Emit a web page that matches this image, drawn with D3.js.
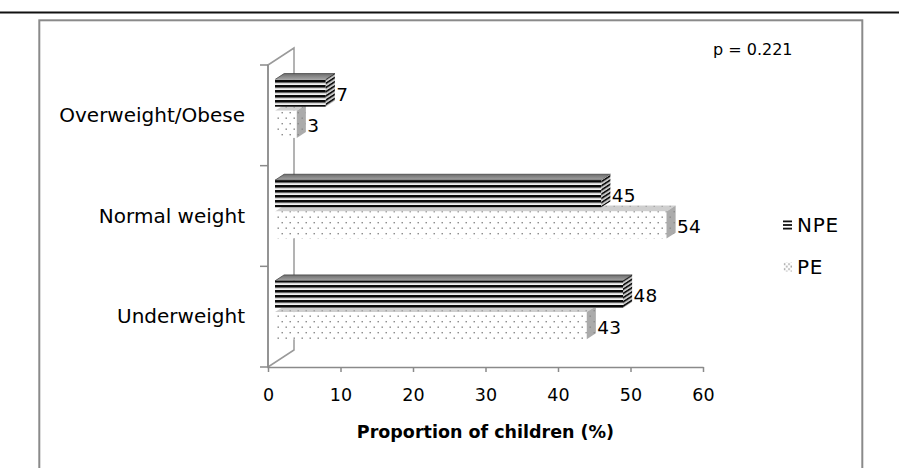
<!DOCTYPE html>
<html>
<head>
<meta charset="utf-8">
<script src="https://cdn.jsdelivr.net/npm/d3@7"></script>
<style>
	body { margin: 0; background: #fff; }
	text { font-family: "DejaVu Sans", sans-serif; fill: #000; }
</style>
</head>
<body>
<svg width="899" height="468"></svg>
<script>
const categories = ["Overweight/Obese", "Normal weight", "Underweight"];
const seriesNames = ["NPE", "PE"];
const npeValues = [7, 45, 48];
const peValues = [3, 54, 43];
const xTicks = [0, 10, 20, 30, 40, 50, 60];
const xTitle = "Proportion of children (%)";
const pLabel = "p = 0.221";

const svg = d3.select("svg"); // select the svg in the DOM

const width = +svg.attr("width");
const height = +svg.attr("height");

// page rule and chart frame
svg.append("line")
	.attr("x1", 0).attr("x2", width)
	.attr("y1", 12.6).attr("y2", 12.6)
	.attr("stroke", "#111").attr("stroke-width", 2);
svg.append("rect")
	.attr("x", 39.3).attr("y", 20.3)
	.attr("width", 823).attr("height", height)
	.attr("fill", "#fff")
	.attr("stroke", "#8a8a8a").attr("stroke-width", 2);

const defs = svg.append("defs");

// horizontal stripes for NPE
const stripes = defs.append("pattern")
	.attr("id", "npeFront").attr("patternUnits", "userSpaceOnUse")
	.attr("width", 4).attr("height", 5);
stripes.append("rect").attr("width", 4).attr("height", 5).attr("fill", "#f2f2f2");
stripes.append("rect").attr("width", 4).attr("height", 2.6).attr("fill", "#0a0a0a");
stripes.append("rect").attr("y", 2.6).attr("width", 4).attr("height", 0.6).attr("fill", "#666");

const endStripes = defs.append("pattern")
	.attr("id", "npeEnd").attr("patternUnits", "userSpaceOnUse")
	.attr("width", 6).attr("height", 4.2)
	.attr("patternTransform", "skewY(-33)");
endStripes.append("rect").attr("width", 6).attr("height", 4.2).attr("fill", "#c8c8c8");
endStripes.append("rect").attr("width", 6).attr("height", 2).attr("fill", "#111");

const topGrad = defs.append("linearGradient")
	.attr("id", "npeTop").attr("x1", 0).attr("x2", 0).attr("y1", 0).attr("y2", 1);
topGrad.append("stop").attr("offset", 0).attr("stop-color", "#6e6e6e");
topGrad.append("stop").attr("offset", 1).attr("stop-color", "#a4a4a4");

// dots for PE
const dotPattern = (id, bg, dot, w, h) => {
	const p = defs.append("pattern")
		.attr("id", id).attr("patternUnits", "userSpaceOnUse")
		.attr("width", w).attr("height", h);
	p.append("rect").attr("width", w).attr("height", h).attr("fill", bg);
	[[w * 0.19, h * 0.18], [w * 0.69, h * 0.68]].forEach(([x, y]) => {
		p.append("rect").attr("x", x).attr("y", y)
			.attr("width", 1.4).attr("height", 1.4).attr("fill", dot);
	});
};
dotPattern("peFront", "#fff", "#858585", 8, 11);
dotPattern("peTop", "#cfcfcf", "#a0a0a0", 8, 11);
dotPattern("peEnd", "#ababab", "#8a8a8a", 8, 11);
dotPattern("peKey", "#fff", "#808080", 4.5, 5);

const xScale = d3.scaleLinear()
	.domain([0, 60])
	.range([268, 703]);

const yScale = d3.scaleBand()
	.domain(categories)
	.range([65, 367]);

// oblique depth of the floor and where the bars sit in it
const depth = { x: 26, y: -17 };
const barDepth = [0.27, 0.62];

const seriesScale = d3.scaleBand()
	.domain(seriesNames)
	.range([-0.31, 0.27])
	.paddingInner(0.13);

// side wall
const x0 = xScale(0);
const yTop = yScale.range()[0];
const yBottom = yScale.range()[1];
svg.append("polygon")
	.attr("points", [
		[x0, yTop], [x0 + depth.x, yTop + depth.y],
		[x0 + depth.x, yBottom + depth.y], [x0, yBottom]
	].join(" "))
	.attr("fill", "#fff")
	.attr("stroke", "#9a9a9a").attr("stroke-width", 1.5);

// x axis
const xAxis = d3.axisBottom(xScale)
	.tickValues(xTicks)
	.tickSize(5)
	.tickSizeOuter(0)
	.tickPadding(17);

const xAxisG = svg.append("g")
	.attr("transform", `translate(0, ${yBottom})`)
	.call(xAxis);
xAxisG.select(".domain").attr("stroke", "#8a8a8a").attr("stroke-width", 1.5);
xAxisG.selectAll(".tick line").attr("stroke", "#8a8a8a").attr("stroke-width", 1.5);
xAxisG.selectAll(".tick text")
	.attr("font-family", "DejaVu Sans")
	.attr("font-size", 17.5)
	.attr("fill", "#000");

svg.append("text")
	.attr("x", (xScale(0) + xScale(60)) / 2)
	.attr("y", 438)
	.attr("text-anchor", "middle")
	.attr("font-size", 17.5)
	.attr("font-weight", "bold")
	.text(xTitle);

// category axis, ticks between categories
const bw = yScale.bandwidth();
const boundaries = categories.map(c => yScale(c)).concat([yBottom]);
svg.append("line")
	.attr("x1", x0).attr("x2", x0)
	.attr("y1", yTop).attr("y2", yBottom)
	.attr("stroke", "#8a8a8a").attr("stroke-width", 1.5);
svg.selectAll("line.ytick").data(boundaries)
	.enter().append("line")
		.attr("class", "ytick")
		.attr("x1", x0 - 8).attr("x2", x0)
		.attr("y1", d => d).attr("y2", d => d)
		.attr("stroke", "#8a8a8a").attr("stroke-width", 1.5);
svg.selectAll("text.cat").data(categories)
	.enter().append("text")
		.attr("class", "cat")
		.attr("x", 245)
		.attr("y", d => yScale(d) + bw / 2 + 6.5)
		.attr("text-anchor", "end")
		.attr("font-size", 20)
		.text(d => d);

// bars, PE drawn first so the NPE bar above covers its top face
const sx = depth.x * barDepth[0];
const sy = depth.y * barDepth[0];
const ddx = depth.x * (barDepth[1] - barDepth[0]);
const ddy = depth.y * (barDepth[1] - barDepth[0]);

const bars = [];
categories.forEach((c, i) => {
	[["PE", peValues[i]], ["NPE", npeValues[i]]].forEach(([s, v]) => {
		const cy = yScale(c) + bw / 2 + sy;
		const top = cy + seriesScale(s) * bw;
		bars.push({
			series: s, value: v,
			x0: xScale(0) + sx, x1: xScale(v) + sx,
			top: top, bottom: top + seriesScale.bandwidth() * bw
		});
	});
});

const faces = {
	NPE: { front: "url(#npeFront)", top: "url(#npeTop)", end: "url(#npeEnd)" },
	PE: { front: "url(#peFront)", top: "url(#peTop)", end: "url(#peEnd)" }
};

const barG = svg.selectAll("g.bar").data(bars)
	.enter().append("g")
		.attr("class", "bar");

barG.append("polygon")
	.attr("points", d => [
		[d.x0, d.top], [d.x1, d.top],
		[d.x1 + ddx, d.top + ddy], [d.x0 + ddx, d.top + ddy]
	].join(" "))
	.attr("fill", d => faces[d.series].top)
	.attr("stroke", d => d.series === "NPE" ? "#444" : "none")
	.attr("stroke-width", 0.8);

barG.append("rect")
	.attr("x", d => d.x0)
	.attr("y", d => d.top)
	.attr("width", d => d.x1 - d.x0)
	.attr("height", d => d.bottom - d.top)
	.attr("fill", d => faces[d.series].front);

barG.append("polygon")
	.attr("points", d => [
		[d.x1, d.top], [d.x1 + ddx, d.top + ddy],
		[d.x1 + ddx, d.bottom + ddy], [d.x1, d.bottom]
	].join(" "))
	.attr("fill", d => faces[d.series].end);

// value labels
svg.selectAll("text.value").data(bars)
	.enter().append("text")
		.attr("class", "value")
		.attr("x", d => d.x1 + ddx + 1.5)
		.attr("y", d => (d.top + d.bottom) / 2 + 8)
		.attr("font-size", 18.5)
		.text(d => d.value);

// legend
const legend = svg.append("g");
const legendY = [225, 267];
seriesNames.forEach((s, i) => {
	const key = legend.append("g")
		.attr("transform", `translate(783, ${legendY[i] - 4.5})`);
	if (s === "NPE") {
		[0, 3.6, 7.2].forEach(y => {
			key.append("rect")
				.attr("y", y).attr("width", 9).attr("height", 1.8)
				.attr("fill", "#111");
		});
	} else {
		key.append("rect")
			.attr("width", 9).attr("height", 9)
			.attr("fill", "url(#peKey)");
	}
	legend.append("text")
		.attr("x", 797)
		.attr("y", legendY[i] + 7.3)
		.attr("font-size", 20)
		.attr("letter-spacing", 0.8)
		.text(s);
});

svg.append("text")
	.attr("x", 713)
	.attr("y", 55)
	.attr("font-size", 16)
	.text(pLabel);
</script>
</body>
</html>
